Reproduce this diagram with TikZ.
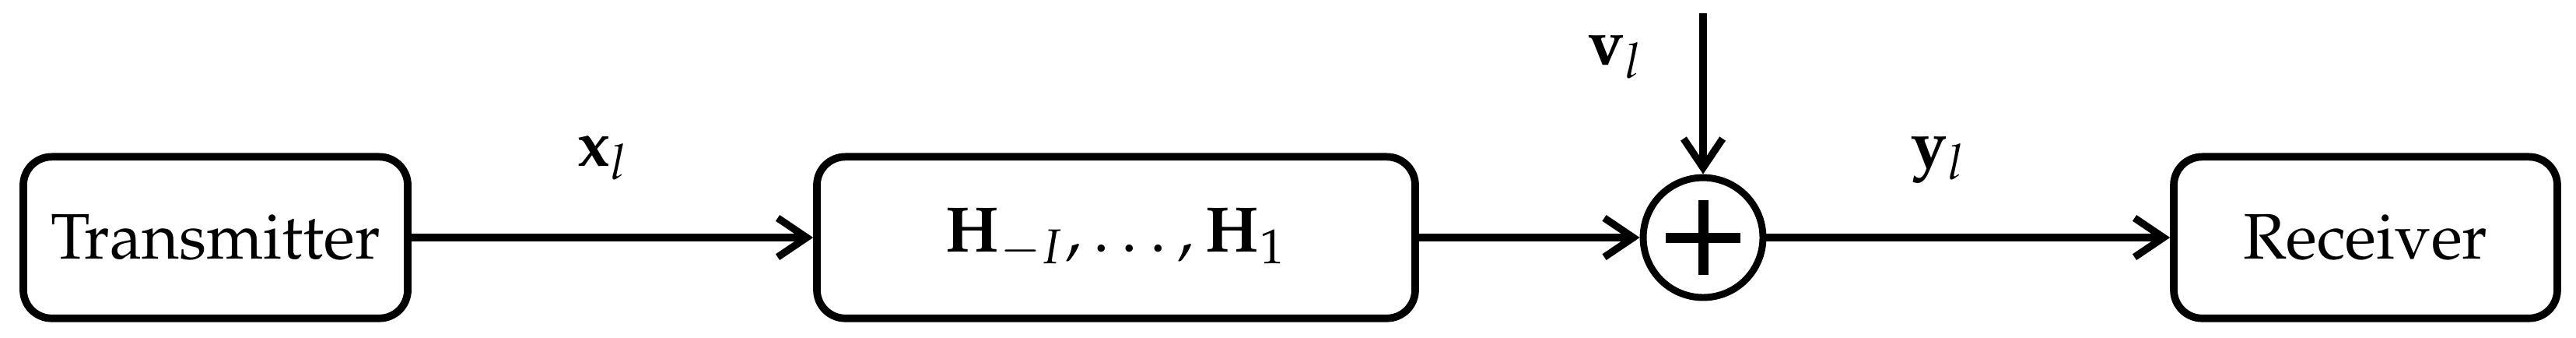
\documentclass[tikz,border=0pt]{standalone}
\usepackage[T1]{fontenc}
\usepackage{mathpazo}
\usetikzlibrary{arrows.meta}
\begin{document}
\begin{tikzpicture}[x=1pt,y=1pt,
  blk/.style={draw, line width=1.2pt, rounded corners=4.5pt, minimum height=25.6pt, inner sep=0pt, font=\fontsize{10.2}{12}\selectfont},
  sumnode/.style={draw, circle, line width=1.1pt, minimum size=19pt, inner sep=0pt,
    path picture={
      \draw[line width=1.6pt] ([xshift=-5.9pt]path picture bounding box.center) -- ([xshift=5.9pt]path picture bounding box.center);
      \draw[line width=1.6pt] ([yshift=-5.9pt]path picture bounding box.center) -- ([yshift=5.9pt]path picture bounding box.center);
    }},
  conn/.style={line width=1.15pt, -{Straight Barb[length=4.6pt,width=6.2pt]}},
  lbl/.style={anchor=base, inner sep=0pt, font=\fontsize{10.2}{12}\selectfont}
]
\useasboundingbox (0,0) rectangle (408.77,53.46);
\node[blk, minimum width=61pt] (tx) at (34.2,15.8) {Transmitter};
\node[blk, minimum width=94.94pt] (ch) at (177.1,15.8) {$\mathbf{H}_{-I},\ldots,\mathbf{H}_1$};
\node[sumnode] (sum) at (270.25,15.8) {};
\node[blk, minimum width=60.86pt] (rx) at (375.37,15.8) {Receiver};
\coordinate (vin) at (270.25,51.36);
\draw[conn] (tx) -- (ch);
\draw[conn] (ch) -- (sum);
\draw[conn] (sum) -- (rx);
\draw[conn] (vin) -- (sum);
\node[lbl] (xl) at (95.7,27.16) {$\mathbf{x}_l$};
\node[lbl] (vl) at (256.4,43.2) {$\mathbf{v}_l$};
\node[lbl] (yl) at (307.7,27.16) {$\mathbf{y}_l$};
\end{tikzpicture}
\end{document}
